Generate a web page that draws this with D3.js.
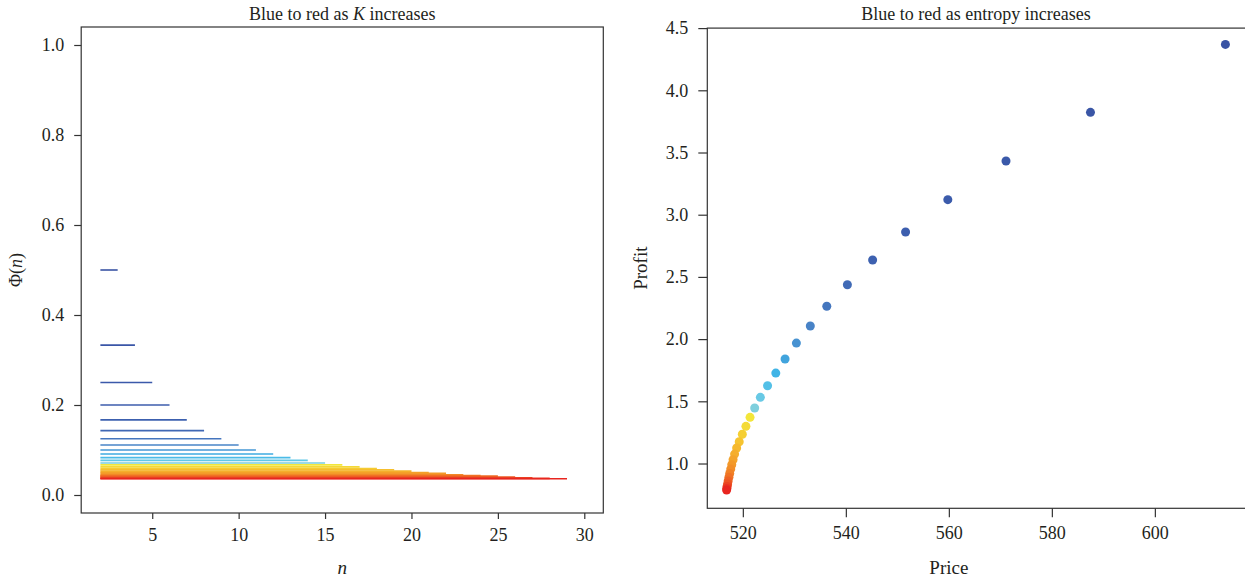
<!DOCTYPE html>
<html>
<head>
<meta charset="utf-8">
<script src="https://cdn.jsdelivr.net/npm/d3@7"></script>
<style>
  body { margin: 0; background: #fff; }
  svg { display: block; }
</style>
</head>
<body>
<div class="chart"></div>
<script>
// left panel: one horizontal segment per K, at height Phi(n) = value, from n = 2 to nEnd
const kValues = [2,3,4,5,6,7,8,9,10,11,12,13,14,15,16,17,18,19,20,21,22,23,24,25,26,27,28];
const nStart = 2;
const nEnd = [3,4,5,6,7,8,9,10,11,12,13,14,15,16,17,18,19,20,21,22,23,24,25,26,27,28,29];
const phiValues = [0.5,0.333,0.25,0.2,0.167,0.143,0.125,0.111,0.1,0.091,0.083,0.077,0.071,0.067,
                   0.0625,0.059,0.056,0.053,0.05,0.048,0.045,0.043,0.042,0.04,0.038,0.037,0.036];

// right panel: price / profit points, ordered blue to red
const price = [613.7,587.5,571.1,559.8,551.6,545.2,540.3,536.3,533.1,530.4,528.2,526.4,524.8,523.4,
               522.3,521.4,520.6,519.9,519.3,518.8,518.4,518.1,517.85,517.65,517.45,517.3,517.15,
               517.05,516.95,516.9,516.85];
const profit = [4.369,3.823,3.432,3.121,2.861,2.636,2.437,2.264,2.105,1.968,1.840,1.727,1.625,1.532,
                1.446,1.371,1.299,1.235,1.175,1.125,1.076,1.030,0.990,0.955,0.920,0.890,0.860,
                0.835,0.815,0.800,0.787];

const leftTicksY = [0, 0.2, 0.4, 0.6, 0.8, 1.0];
const leftTicksX = [5, 10, 15, 20, 25, 30];
const rightTicksY = [1.0, 1.5, 2.0, 2.5, 3.0, 3.5, 4.0, 4.5];
const rightTicksX = [520, 540, 560, 580, 600];

const width = 1245, height = 582;
const serif = "'Liberation Serif', 'DejaVu Serif', serif";
const ink = "#231f20";

const svg = d3.select(".chart").append("svg")
    .attr("width", width)
    .attr("height", height)
    .attr("font-family", serif);

// blue -> cyan -> teal -> yellow -> orange -> red
const color = d3.scaleLinear()
    .domain([0, 0.18, 0.28, 0.36, 0.42, 0.47, 0.5, 0.62, 0.78, 1])
    .range(["#3953a4", "#3d62b1", "#4a88ca", "#3cb2e6", "#5fc7e8", "#80d0dc",
            "#f3e63a", "#f6bd2e", "#f28a27", "#e8251f"])
    .clamp(true);

function styleAxis(g) {
    g.select(".domain").remove();
    g.attr("font-family", serif).attr("font-size", 18);
    g.selectAll(".tick text").attr("fill", ink);
    g.selectAll(".tick line").attr("stroke", "#333").attr("stroke-width", 1.2);
}

// ---------- left panel ----------
const xL = d3.scaleLinear().domain([0.89, 31.1]).range([81.2, 603.3]);
const yL = d3.scaleLinear().domain([-0.04, 1.04]).range([513, 27]);

svg.append("rect")
    .attr("x", xL.range()[0]).attr("y", yL.range()[1])
    .attr("width", xL.range()[1] - xL.range()[0])
    .attr("height", yL.range()[0] - yL.range()[1])
    .attr("fill", "none").attr("stroke", "#333").attr("stroke-width", 1.2);

svg.append("g")
    .selectAll("line")
    .data(kValues)
    .join("line")
    .attr("x1", xL(nStart))
    .attr("x2", (d, i) => xL(nEnd[i]))
    .attr("y1", (d, i) => yL(phiValues[i]))
    .attr("y2", (d, i) => yL(phiValues[i]))
    .attr("stroke", (d, i) => color(i / (kValues.length - 1)))
    .attr("stroke-width", 1.6);

svg.append("g")
    .attr("transform", `translate(${xL.range()[0]},0)`)
    .call(d3.axisLeft(yL).tickValues(leftTicksY).tickFormat(d3.format(".1f")).tickSize(7).tickPadding(10))
    .call(styleAxis);

svg.append("g")
    .attr("transform", `translate(0,${yL.range()[0]})`)
    .call(d3.axisBottom(xL).tickValues(leftTicksX).tickSize(6).tickPadding(9))
    .call(styleAxis);

const titleL = svg.append("text")
    .attr("x", (xL.range()[0] + xL.range()[1]) / 2)
    .attr("y", 20)
    .attr("text-anchor", "middle")
    .attr("font-size", 18)
    .attr("fill", ink);
titleL.append("tspan").text("Blue to red as ");
titleL.append("tspan").attr("font-style", "italic").text("K");
titleL.append("tspan").text(" increases");

svg.append("text")
    .attr("x", (xL.range()[0] + xL.range()[1]) / 2)
    .attr("y", 574)
    .attr("text-anchor", "middle")
    .attr("font-size", 19)
    .attr("font-style", "italic")
    .attr("fill", ink)
    .text("n");

const phiLabel = svg.append("text")
    .attr("transform", `translate(22,${(yL.range()[0] + yL.range()[1]) / 2}) rotate(-90)`)
    .attr("text-anchor", "middle")
    .attr("font-size", 18)
    .attr("fill", ink);
phiLabel.append("tspan").text("Φ(");
phiLabel.append("tspan").attr("font-style", "italic").text("n");
phiLabel.append("tspan").text(")");

// ---------- right panel ----------
const xR = d3.scaleLinear().domain([513.1, 620.9]).range([707.3, 1262.5]);
const yR = d3.scaleLinear().domain([0.64, 4.5]).range([508.3, 28.1]);

svg.append("rect")
    .attr("x", xR.range()[0]).attr("y", yR.range()[1])
    .attr("width", xR.range()[1] - xR.range()[0])
    .attr("height", yR.range()[0] - yR.range()[1])
    .attr("fill", "none").attr("stroke", "#333").attr("stroke-width", 1.2);

svg.append("g")
    .selectAll("circle")
    .data(price)
    .join("circle")
    .attr("cx", d => xR(d))
    .attr("cy", (d, i) => yR(profit[i]))
    .attr("r", 4.5)
    .attr("fill", (d, i) => color(i / (price.length - 1)));

svg.append("g")
    .attr("transform", `translate(${xR.range()[0]},0)`)
    .call(d3.axisLeft(yR).tickValues(rightTicksY).tickFormat(d3.format(".1f")).tickSize(9).tickPadding(10))
    .call(styleAxis);

svg.append("g")
    .attr("transform", `translate(0,${yR.range()[0]})`)
    .call(d3.axisBottom(xR).tickValues(rightTicksX).tickSize(9).tickPadding(9))
    .call(styleAxis);

svg.append("text")
    .attr("x", 976)
    .attr("y", 20)
    .attr("text-anchor", "middle")
    .attr("font-size", 18)
    .attr("fill", ink)
    .text("Blue to red as entropy increases");

svg.append("text")
    .attr("x", xR(560))
    .attr("y", 574)
    .attr("text-anchor", "middle")
    .attr("font-size", 19)
    .attr("fill", ink)
    .text("Price");

svg.append("text")
    .attr("transform", `translate(647,${(yR.range()[0] + yR.range()[1]) / 2}) rotate(-90)`)
    .attr("text-anchor", "middle")
    .attr("font-size", 19)
    .attr("fill", ink)
    .text("Profit");
</script>
</body>
</html>
